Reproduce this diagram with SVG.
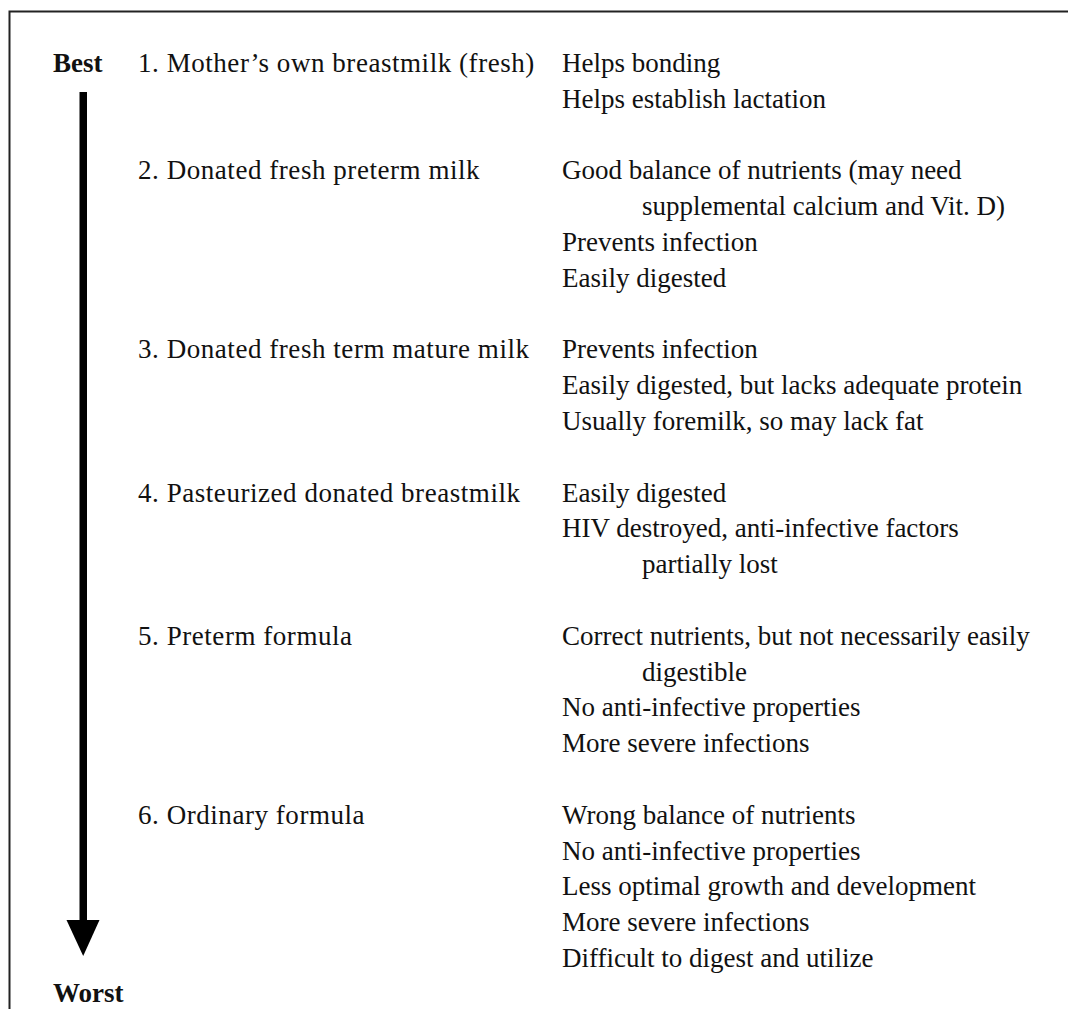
<svg xmlns="http://www.w3.org/2000/svg" width="1068" height="1009" viewBox="0 0 1068 1009">
<style>
text{font-family:"Liberation Serif","Times New Roman",serif;font-size:27px;fill:#111}
.b{font-weight:bold}
.l{letter-spacing:0.55px}
.frame{fill:none;stroke:#222;stroke-width:2}
</style>
<rect width="1068" height="1009" fill="#fff"/>
<g id="frame"><path class="frame" d="M9.5,1009 V11.5 H1068"/></g>
<g id="connectors">
<rect x="79.5" y="92" width="7.5" height="830" fill="#000"/>
<polygon points="66.5,920 99.5,920 83.2,956" fill="#000"/>
</g>
<g id="best"><text class="b" x="53" y="72">Best</text></g>
<g id="worst"><text class="b" x="53" y="1002">Worst</text></g>
<g id="item1">
<text class="l" x="138" y="72">1. Mother’s own breastmilk (fresh)</text>
<text x="562" y="72">Helps bonding</text>
<text x="562" y="107.8">Helps establish lactation</text>
</g>
<g id="item2">
<text class="l" x="138" y="179.4">2. Donated fresh preterm milk</text>
<text x="562" y="179.4">Good balance of nutrients (may need</text>
<text x="642" y="215.2">supplemental calcium and Vit. D)</text>
<text x="562" y="251">Prevents infection</text>
<text x="562" y="286.8">Easily digested</text>
</g>
<g id="item3">
<text class="l" x="138" y="358.4">3. Donated fresh term mature milk</text>
<text x="562" y="358.4">Prevents infection</text>
<text x="562" y="394.2">Easily digested, but lacks adequate protein</text>
<text x="562" y="430">Usually foremilk, so may lack fat</text>
</g>
<g id="item4">
<text class="l" x="138" y="501.6">4. Pasteurized donated breastmilk</text>
<text x="562" y="501.6">Easily digested</text>
<text x="562" y="537.4">HIV destroyed, anti-infective factors</text>
<text x="642" y="573.2">partially lost</text>
</g>
<g id="item5">
<text class="l" x="138" y="644.8">5. Preterm formula</text>
<text x="562" y="644.8">Correct nutrients, but not necessarily easily</text>
<text x="642" y="680.6">digestible</text>
<text x="562" y="716.4">No anti-infective properties</text>
<text x="562" y="752.2">More severe infections</text>
</g>
<g id="item6">
<text class="l" x="138" y="823.8">6. Ordinary formula</text>
<text x="562" y="823.8">Wrong balance of nutrients</text>
<text x="562" y="859.6">No anti-infective properties</text>
<text x="562" y="895.4">Less optimal growth and development</text>
<text x="562" y="931.2">More severe infections</text>
<text x="562" y="967">Difficult to digest and utilize</text>
</g>
</svg>
